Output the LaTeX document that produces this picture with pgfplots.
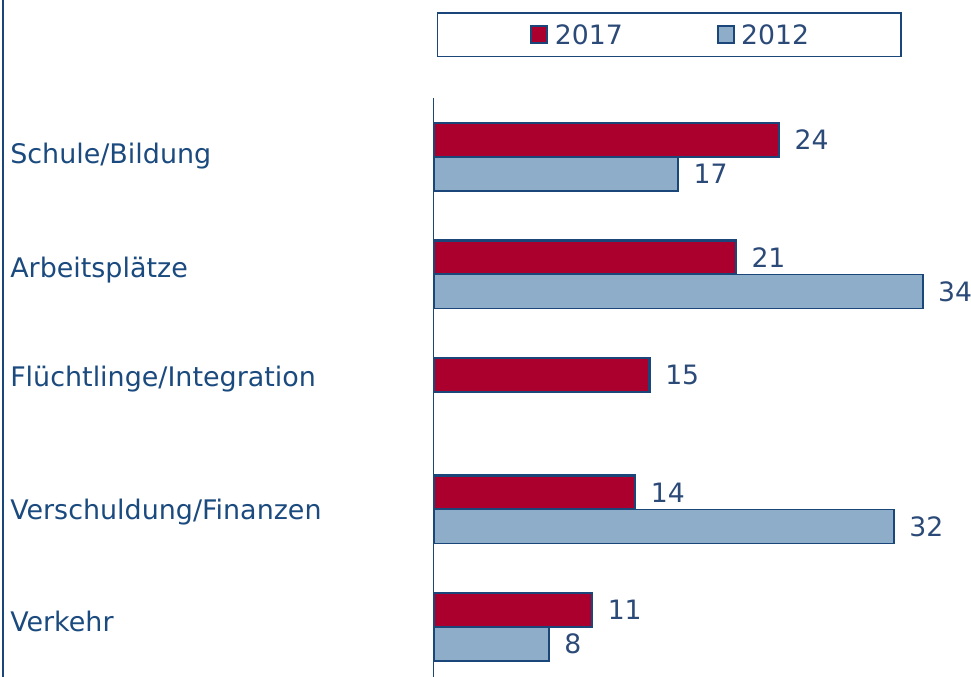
\documentclass[border=0pt]{standalone}
\usepackage{pgfplots}
\pgfplotsset{compat=1.18}
\usepackage{fontspec}
\setmainfont{DejaVu Sans}
\newdimen\pp \pp=0.75pt
\definecolor{myred}{HTML}{AB002E}
\definecolor{lblue}{HTML}{8DADC9}
\definecolor{dblue}{HTML}{1B4679}
\definecolor{lab}{HTML}{1B4A7E}
\definecolor{num}{HTML}{2B4A78}
\begin{document}
\begin{tikzpicture}
\useasboundingbox (0,0) rectangle (728.25pt,507.75pt);
\draw[dblue, line width=1.5\pp] (2.25pt,0) -- (2.25pt,507.75pt);
\begin{axis}[
  at={(325.5pt,0pt)}, anchor=south west,
  scale only axis, width=398.9pt, height=434.25pt,
  xmin=0, xmax=37, ymin=-0.502, ymax=4.426, y dir=reverse,
  xbar, bar width=0.2894, bar shift=0pt,
  hide x axis, axis y line*=left,
  y axis line style={draw=dblue, line width=1\pp, -},
  ytick={-0.0255,0.9447,1.872,3.0,3.953},
  yticklabels={Schule/Bildung, Arbeitsplätze, Flüchtlinge/Integration, Verschuldung/Finanzen, Verkehr},
  major tick length=0pt,
  yticklabel style={anchor=base west, inner sep=0pt, xshift=-318pt, yshift=-7.4pt, font=\fontsize{20.2pt}{24pt}\selectfont, text=lab},
  clip=false,
  nodes near coords={\pgfmathprintnumber[assume math mode=true]{\pgfplotspointmeta}},
  nodes near coords style={anchor=west, inner sep=0pt, xshift=10.8pt, font=\fontsize{20pt}{24pt}\selectfont, text=num},
  legend columns=2,
  legend style={at={(0.0056,1.1485)}, anchor=north west, draw=dblue, line width=1.5\pp,
    inner xsep=69pt, inner ysep=9pt,
    nodes={inner sep=0pt, text height=14.6pt, text depth=0pt, font=\fontsize{20pt}{24pt}\selectfont, text=num},
    /tikz/every even column/.append style={column sep=70.5pt},
    /tikz/every odd column/.append style={column sep=5pt}},
  legend image code/.code={\draw[#1] (0pt,-6.4pt) rectangle (12pt,6.4pt);},
]
\addplot[fill=myred, draw=dblue, line width=2.5\pp] coordinates {(24,-0.1447) (21,0.8553) (15,1.8553) (14,2.8553) (11,3.8553)};
\addplot[fill=lblue, draw=dblue, line width=1.8\pp] coordinates {(17,0.1447) (34,1.1447) (32,3.1447) (8,4.1447)};
\legend{2017,2012}
\end{axis}
\end{tikzpicture}
\end{document}
